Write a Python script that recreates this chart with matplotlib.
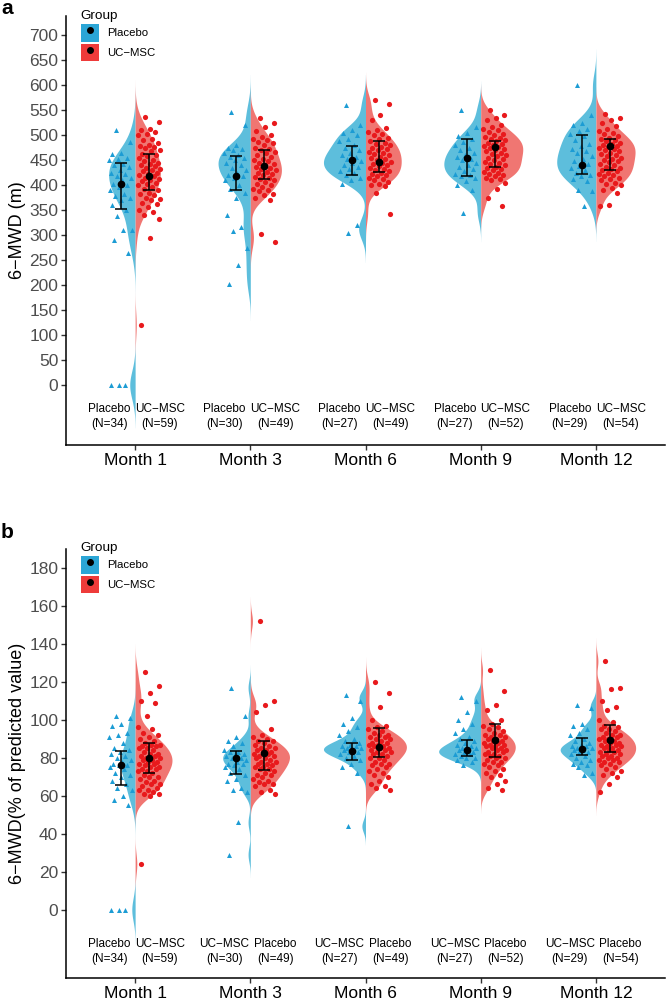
import numpy as np
import matplotlib.pyplot as plt
from matplotlib.patches import Patch
from matplotlib.lines import Line2D
from matplotlib.legend_handler import HandlerTuple

plt.rcParams['font.family'] = ['Liberation Sans', 'DejaVu Sans']

months = ['Month 1', 'Month 3', 'Month 6', 'Month 9', 'Month 12']

# ---- panel a: 6-MWD (m) ----
a_placebo = [
    [510, 487, 465, 462, 455, 453, 450, 443, 440, 437, 430, 425, 423, 418, 415, 410, 403,
     400, 397, 390, 383, 378, 375, 370, 360, 351, 338, 311, 310, 291, 265, 0, 0, 0],
    [547, 520, 480, 475, 473, 470, 465, 460, 457, 455, 450, 445, 440, 435, 430, 425, 420,
     418, 415, 410, 400, 392, 385, 375, 340, 316, 309, 275, 240, 203],
    [561, 520, 510, 505, 500, 493, 488, 480, 475, 470, 465, 460, 456, 452, 448, 445, 440,
     437, 432, 428, 425, 420, 415, 410, 403, 320, 305],
    [550, 517, 505, 498, 492, 487, 480, 475, 470, 465, 460, 457, 453, 450, 445, 440, 437,
     433, 428, 423, 420, 418, 415, 408, 400, 390, 345],
    [600, 540, 525, 520, 512, 508, 502, 498, 490, 482, 478, 472, 468, 465, 458, 453, 448,
     442, 438, 435, 430, 425, 420, 418, 413, 408, 390, 388, 359],
]
a_ucmsc = [
    [537, 527, 512, 510, 507, 502, 500, 493, 491, 485, 480, 478, 477, 475, 470, 468, 463,
     460, 458, 455, 450, 448, 445, 443, 440, 438, 435, 432, 430, 428, 425, 423, 420, 418,
     415, 412, 410, 408, 405, 402, 400, 397, 393, 390, 385, 383, 380, 375, 373, 370, 365,
     363, 357, 350, 347, 340, 333, 295, 120],
    [535, 525, 517, 508, 500, 497, 492, 490, 487, 485, 480, 475, 472, 470, 467, 465, 460,
     457, 453, 450, 448, 445, 443, 440, 437, 435, 432, 430, 427, 425, 422, 420, 417, 415,
     412, 410, 407, 403, 400, 397, 393, 390, 388, 383, 380, 374, 370, 303, 287],
    [570, 563, 541, 530, 515, 510, 507, 503, 500, 495, 492, 488, 485, 482, 480, 477, 474,
     472, 470, 467, 465, 462, 460, 457, 455, 452, 450, 447, 445, 442, 440, 438, 435, 432,
     430, 428, 425, 423, 420, 418, 415, 412, 410, 407, 403, 400, 398, 385, 343],
    [550, 540, 535, 530, 520, 517, 512, 510, 507, 503, 500, 497, 495, 492, 490, 488, 485,
     483, 480, 478, 477, 475, 473, 470, 468, 465, 462, 460, 458, 455, 452, 450, 447, 445,
     442, 440, 437, 435, 432, 430, 427, 425, 422, 420, 418, 415, 412, 410, 405, 392, 375, 359],
    [543, 535, 530, 525, 518, 512, 508, 505, 502, 498, 495, 492, 490, 488, 485, 482, 480,
     478, 477, 475, 472, 470, 468, 465, 462, 460, 458, 455, 452, 450, 448, 446, 443, 440,
     437, 435, 432, 430, 428, 425, 422, 420, 418, 415, 412, 410, 405, 402, 400, 395, 390,
     385, 360, 358],
]
# centre point and error bar limits
a_placebo_mid = [402, 419, 450, 455, 440]
a_placebo_lo = [353, 391, 421, 419, 423]
a_placebo_hi = [445, 459, 479, 493, 501]
a_ucmsc_mid = [419, 439, 447, 477, 478]
a_ucmsc_lo = [391, 412, 426, 437, 431]
a_ucmsc_hi = [462, 470, 489, 489, 492]

a_left_names = ['Placebo'] * 5
a_right_names = ['UC\u2212MSC'] * 5
a_left_n = [34, 30, 27, 27, 29]
a_right_n = [59, 49, 49, 52, 54]

# ---- panel b: 6-MWD (% of predicted value) ----
b_placebo = [
    [102, 101, 98, 97, 93, 92, 91, 88, 85, 84, 83, 82, 81, 80, 79, 78, 77, 76, 76, 75,
     74, 72, 71, 70, 68, 66, 64, 63, 60, 58, 55, 0, 0, 0],
    [117, 102, 91, 89, 88, 86, 84, 83, 83, 82, 82, 81, 80, 80, 79, 78, 77, 77, 76, 75,
     74, 72, 71, 69, 68, 64, 63, 62, 46, 29],
    [113, 110, 101, 98, 96, 94, 92, 90, 89, 88, 87, 86, 86, 85, 85, 84, 84, 83, 83, 82,
     81, 80, 79, 77, 75, 72, 44],
    [112, 110, 104, 100, 98, 95, 93, 91, 90, 89, 88, 87, 86, 85, 85, 84, 84, 83, 83, 82,
     82, 81, 80, 80, 79, 78, 76],
    [108, 106, 98, 97, 95, 93, 92, 90, 89, 88, 87, 86, 86, 85, 85, 84, 84, 83, 83, 82,
     81, 80, 79, 78, 77, 76, 75, 72, 71],
]
b_ucmsc = [
    [125, 118, 114, 110, 109, 102, 96, 95, 93, 92, 91, 90, 89, 88, 87, 87, 86, 86, 85, 85,
     84, 83, 82, 82, 81, 81, 80, 80, 79, 79, 78, 78, 77, 77, 76, 75, 75, 74, 74, 73, 73,
     72, 71, 70, 70, 69, 68, 67, 66, 66, 65, 64, 63, 63, 62, 61, 61, 60, 24],
    [152, 110, 108, 104, 95, 92, 91, 90, 89, 89, 88, 87, 86, 85, 85, 84, 84, 83, 83, 82,
     82, 81, 81, 80, 80, 79, 78, 78, 77, 77, 76, 75, 75, 74, 74, 73, 72, 71, 71, 70, 69,
     68, 67, 66, 66, 65, 63, 62, 61],
    [120, 114, 107, 100, 97, 96, 95, 94, 93, 92, 92, 91, 91, 90, 90, 89, 88, 88, 87, 87,
     86, 86, 85, 85, 84, 84, 83, 83, 82, 82, 81, 80, 80, 79, 78, 77, 77, 76, 75, 74, 73,
     72, 71, 70, 68, 66, 65, 64, 63],
    [126, 115, 108, 105, 100, 98, 97, 96, 95, 94, 93, 92, 92, 91, 91, 90, 90, 89, 89, 88,
     88, 87, 87, 86, 86, 85, 85, 84, 84, 83, 83, 82, 82, 81, 81, 80, 80, 79, 78, 78, 77,
     76, 75, 74, 73, 72, 71, 70, 68, 66, 64, 63],
    [131, 117, 116, 110, 107, 105, 100, 99, 97, 96, 95, 95, 94, 93, 92, 92, 91, 91, 90, 90,
     89, 89, 88, 88, 87, 87, 86, 86, 85, 85, 84, 84, 83, 83, 82, 82, 81, 81, 80, 80, 79,
     79, 78, 78, 77, 76, 75, 74, 73, 72, 71, 70, 66, 62],
]
b_placebo_mid = [76.2, 79.7, 83.7, 84.2, 84.6]
b_placebo_lo = [65.8, 71.5, 79.0, 81.1, 81.5]
b_placebo_hi = [83.6, 83.6, 87.6, 89.3, 90.5]
b_ucmsc_mid = [80.1, 82.5, 85.8, 89.3, 89.3]
b_ucmsc_lo = [71.9, 73.6, 80.6, 80.6, 82.8]
b_ucmsc_hi = [87.6, 89.1, 95.9, 98.0, 97.3]

b_left_names = ['Placebo', 'UC\u2212MSC', 'UC\u2212MSC', 'UC\u2212MSC', 'UC\u2212MSC']
b_right_names = ['UC\u2212MSC', 'Placebo', 'Placebo', 'Placebo', 'Placebo']
b_left_n = [34, 30, 27, 27, 29]
b_right_n = [59, 49, 49, 52, 54]

# max half-width of each violin half (x units, month spacing = 1)
a_left_w = [0.23, 0.28, 0.365, 0.32, 0.34]
a_right_w = [0.22, 0.27, 0.31, 0.365, 0.34]
b_left_w = [0.13, 0.24, 0.365, 0.365, 0.31]
b_right_w = [0.32, 0.34, 0.355, 0.30, 0.345]

blue_fill = '#5DBEDC'
red_fill = '#F07672'
blue_pt = '#1C9CD4'
red_pt = '#E8191C'
blue_key = '#2BA6D6'
red_key = '#EE3B3A'


def kde(vals):
    # gaussian kernel, bw.nrd0, tails cut at 3 bandwidths (like geom_violin trim=FALSE)
    v = np.asarray(vals, float)
    n = len(v)
    q75, q25 = np.percentile(v, [75, 25])
    bw = 0.9 * min(v.std(ddof=1), (q75 - q25) / 1.34) * n ** -0.2
    grid = np.linspace(v.min() - 3 * bw, v.max() + 3 * bw, 512)
    dens = np.exp(-0.5 * ((grid[:, None] - v[None, :]) / bw) ** 2).sum(1)
    return grid, dens / dens.max()


def jitter(n, lo, hi):
    f = (np.arange(n) * 0.618034 + 0.31) % 1.0
    return lo + (hi - lo) * f


def draw_panel(ax, left, right, lmid, llo, lhi, rmid, rlo, rhi,
               lnames, ln, rnames, rn, lw, rw, ylim, yticks, text_y, ylabel):
    for i in range(len(months)):
        x = i + 1
        g, d = kde(left[i])
        ax.fill_betweenx(g, x - d * lw[i], x, color=blue_fill, lw=0, zorder=1)
        g, d = kde(right[i])
        ax.fill_betweenx(g, x, x + d * rw[i], color=red_fill, lw=0, zorder=1)

        ax.scatter(x + jitter(len(left[i]), -0.23, -0.03), left[i], marker='^', s=13,
                   color=blue_pt, lw=0, zorder=2)
        ax.scatter(x + jitter(len(right[i]), 0.02, 0.22), right[i], marker='o', s=14,
                   color=red_pt, lw=0, zorder=2)

        ax.errorbar([x - 0.12], [lmid[i]], yerr=[[lmid[i] - llo[i]], [lhi[i] - lmid[i]]],
                    fmt='o', color='black', ms=4.5, capsize=4, elinewidth=1.1,
                    capthick=1.1, zorder=3)
        ax.errorbar([x + 0.12], [rmid[i]], yerr=[[rmid[i] - rlo[i]], [rhi[i] - rmid[i]]],
                    fmt='o', color='black', ms=4.5, capsize=4, elinewidth=1.1,
                    capthick=1.1, zorder=3)

        ax.text(x - 0.225, text_y, f'{lnames[i]}\n(N={ln[i]})', ha='center', va='center',
                fontsize=8.5, linespacing=1.3)
        ax.text(x + 0.215, text_y, f'{rnames[i]}\n(N={rn[i]})', ha='center', va='center',
                fontsize=8.5, linespacing=1.3)

    ax.set_xlim(0.4, 5.6)
    ax.set_ylim(*ylim)
    ax.set_xticks(range(1, len(months) + 1))
    ax.set_xticklabels(months, fontsize=12.5, color='black')
    ax.set_yticks(yticks)
    ax.set_yticklabels([str(t) for t in yticks], fontsize=12.5, color='#4D4D4D')
    ax.tick_params(length=3.5, width=1.0, color='#333333', pad=2)
    for s in ['top', 'right']:
        ax.spines[s].set_visible(False)
    for s in ['left', 'bottom']:
        ax.spines[s].set_linewidth(1.1)
    ax.set_ylabel(ylabel, fontsize=13)
    ax.yaxis.set_label_coords(-0.066, 0.5)


fig = plt.figure(figsize=(6.66, 9.99), dpi=100)
W, H = 666, 999
ax_a = fig.add_axes([66 / W, 1 - 445 / H, (665 - 66) / W, (445 - 16) / H])
ax_b = fig.add_axes([66 / W, 1 - 978 / H, (665 - 66) / W, (978 - 549) / H])

draw_panel(ax_a, a_placebo, a_ucmsc, a_placebo_mid, a_placebo_lo, a_placebo_hi,
           a_ucmsc_mid, a_ucmsc_lo, a_ucmsc_hi, a_left_names, a_left_n,
           a_right_names, a_right_n, a_left_w, a_right_w, (-120, 738),
           list(range(0, 701, 50)), -63, '6\u2212MWD (m)')
draw_panel(ax_b, b_placebo, b_ucmsc, b_placebo_mid, b_placebo_lo, b_placebo_hi,
           b_ucmsc_mid, b_ucmsc_lo, b_ucmsc_hi, b_left_names, b_left_n,
           b_right_names, b_right_n, b_left_w, b_right_w, (-36, 190),
           list(range(0, 181, 20)), -22, '6\u2212MWD(% of predicted value)')

for ax, top in [(ax_a, 4), (ax_b, 536)]:
    handles = [(Patch(facecolor=blue_key, edgecolor='none'),
                Line2D([], [], marker='o', color='black', ls='', ms=4)),
               (Patch(facecolor=red_key, edgecolor='none'),
                Line2D([], [], marker='o', color='black', ls='', ms=4))]
    leg = ax.legend(handles, ['Placebo', 'UC\u2212MSC'], title='Group',
                    handler_map={tuple: HandlerTuple(ndivide=1)},
                    loc='upper left', bbox_to_anchor=(75 / W, 1 - top / H),
                    bbox_transform=fig.transFigure, frameon=False, fontsize=8.2,
                    title_fontsize=9.7, handlelength=1.6, handleheight=2.0,
                    labelspacing=0.2, handletextpad=0.7, borderpad=0,
                    alignment='left')

fig.text(1 / W, 1 - 9 / H, 'a', fontsize=15, fontweight='bold', va='center')
fig.text(1 / W, 1 - 533 / H, 'b', fontsize=15, fontweight='bold', va='center')

fig.savefig('out.png', dpi=100)
